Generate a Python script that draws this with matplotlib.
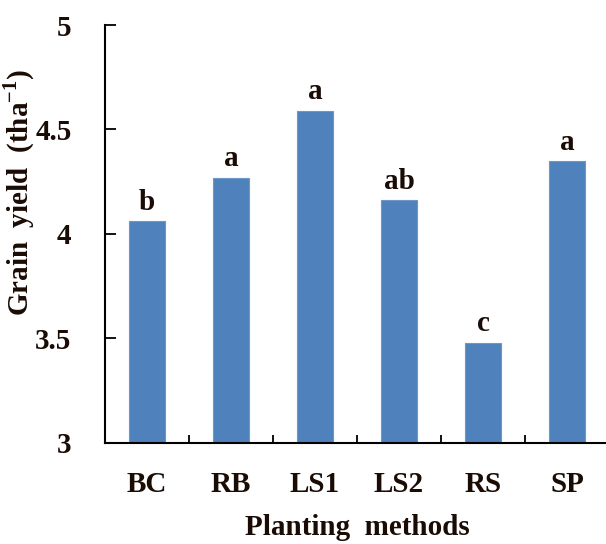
import numpy as np
import matplotlib.pyplot as plt

# planting methods and grain yield (t/ha)
methods = ['BC', 'RB', 'LS1', 'LS2', 'RS', 'SP']
yields = [4.06, 4.27, 4.59, 4.16, 3.48, 4.35]
letters = ['b', 'a', 'a', 'ab', 'c', 'a']
yticks = [3, 3.5, 4, 4.5, 5]
ytick_labels = ['3', '3.5', '4', '4.5', '5']

plt.rcParams['font.family'] = ['Liberation Serif', 'DejaVu Serif']
plt.rcParams['font.weight'] = 'bold'
plt.rcParams['mathtext.fontset'] = 'custom'
plt.rcParams['mathtext.rm'] = 'Liberation Serif:bold'
plt.rcParams['mathtext.bf'] = 'Liberation Serif:bold'

txt = '#1a0c04'

fig = plt.figure(figsize=(6.06, 5.44), dpi=100)
ax = fig.add_axes([0.173, 0.186, 0.832, 0.768])

x = np.arange(len(methods))
ax.bar(x, np.array(yields) - 3, bottom=3, width=0.42,
       color='#4f81bd', edgecolor='#6d96c9', linewidth=0.8)

for xi, yi, lab in zip(x, yields, letters):
    ax.text(xi, yi + 0.025, lab, ha='center', va='bottom',
            fontsize=21, fontweight='bold', color=txt)

ax.set_xlim(-0.5, 5.5)
ax.set_ylim(3, 5)
ax.set_yticks(yticks)
ax.set_yticklabels(ytick_labels)
# major ticks between groups, labels on minor ticks at bar centres
ax.set_xticks(x[:-1] + 0.5)
ax.set_xticklabels([])
ax.set_xticks(x, minor=True)
ax.set_xticklabels(methods, minor=True)
ax.tick_params(axis='x', which='major', direction='in', length=6, width=1.3)
ax.tick_params(axis='x', which='minor', length=0, pad=20, labelsize=21,
               labelcolor=txt)
ax.tick_params(axis='y', direction='in', length=8, width=1.3, pad=24,
               labelsize=21, labelcolor=txt)

for s in ['top', 'right']:
    ax.spines[s].set_visible(False)
for s in ['left', 'bottom']:
    ax.spines[s].set_linewidth(1.5)

ax.set_xlabel('Planting  methods', fontsize=21, fontweight='bold',
              color=txt, labelpad=12)
ax.set_ylabel('Grain  yield  (tha$^{-1}$)', fontsize=21, fontweight='bold',
              color=txt)
ax.yaxis.set_label_coords(-0.135, 0.6)

fig.savefig('out.png', dpi=100)
